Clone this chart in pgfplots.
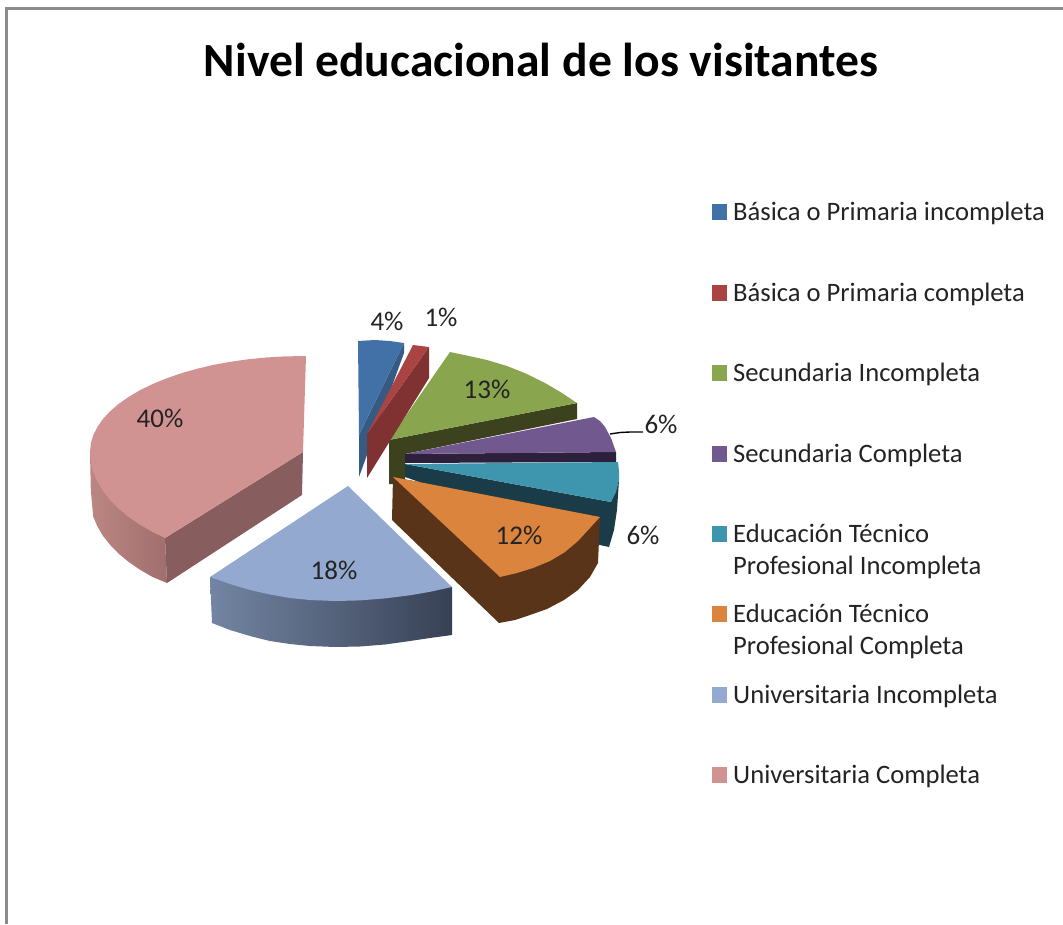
\documentclass[border=0pt]{standalone}
\usepackage{pgfplots}
\pgfplotsset{compat=1.18}
\usepackage{fontspec}
\setmainfont{Carlito}
\definecolor{bluT}{RGB}{65,113,167}\definecolor{bluS}{RGB}{55,90,130}
\definecolor{redT}{RGB}{170,68,66}\definecolor{redS}{RGB}{128,50,50}
\definecolor{grnT}{RGB}{137,165,78}\definecolor{grnS}{RGB}{60,65,30}
\definecolor{purT}{RGB}{113,88,143}\definecolor{purS}{RGB}{45,32,60}
\definecolor{teaT}{RGB}{61,150,174}\definecolor{teaS}{RGB}{25,60,72}
\definecolor{oraT}{RGB}{219,132,61}\definecolor{oraS}{RGB}{90,52,24}
\definecolor{lblT}{RGB}{147,169,207}\definecolor{lblL}{RGB}{115,133,163}\definecolor{lblR}{RGB}{55,65,85}
\definecolor{pnkT}{RGB}{209,147,146}\definecolor{pnkL}{RGB}{188,135,130}\definecolor{pnkR}{RGB}{160,110,110}\definecolor{pnkS}{RGB}{135,93,93}
\definecolor{txt}{RGB}{35,35,35}
\definecolor{frm}{RGB}{140,140,140}
\begin{document}
\begin{tikzpicture}
\path[use as bounding box] (0,0) rectangle (1063pt,924pt);
\begin{axis}[at={(0,0)},anchor=south west,scale only axis,width=1063pt,height=924pt,
  xmin=0,xmax=1063,ymin=0,ymax=924,y dir=reverse,hide axis,clip=true]
% frame
\addplot[draw=frm,line width=3pt] coordinates {(6,924)(6,8)(1063,8)};
% green
\addplot[fill=grnS,draw=none] coordinates {(389,440)(577,403)(577,419)(405,454)(405,484)(389,484)};
\addplot[fill=grnT,draw=none] coordinates {(450,352)(469,356)(487,360)(507,366)(527,374)(545,383)(562,393)(577,403)(389,440)};
% blue
\addplot[fill=bluS,draw=none] coordinates {(404,343)(404,353)(359,477)(359,435)};
\addplot[fill=bluT,draw=none] coordinates {(358,341)(375,340)(390,341)(404,343)(359,435)};
% red
\addplot[fill=redS,draw=none] coordinates {(429,347)(429,378)(367,478)(367,434)};
\addplot[fill=redT,draw=none] coordinates {(413,345)(429,347)(367,434)};
% purple
\addplot[fill=purS,draw=none] coordinates {(405,454)(616,452)(616,462)(405,463)};
\addplot[fill=purT,draw=none] coordinates {(405,454)(594,417)(600,421)(605,427)(611,438)(616,452)};
% teal
\addplot[fill=teaS,draw=none] coordinates {(405,464)(611,502)(619,480)(617,510)(614,530)(609,547)(600,545)(405,477)};
\addplot[fill=teaT,draw=none] coordinates {(405,464)(618,462)(619,471)(619,480)(616,492)(611,502)};
% orange
\addplot[fill=oraS,draw=none] coordinates {(393,477)(392,520)(499,623)(515,620)(530,615)(547,609)(564,600)(578,590)(590,577)(598,563)(600,517)};
\addplot[fill=oraT,draw=none] coordinates {(393,477)(600,517)(590,528)(578,541)(565,552)(550,561)(533,568)(517,573)(500,577)};
% light blue
\addplot[draw=none,left color=lblL,right color=lblR] coordinates {(210,577)(212,623)(230,630)(250,636)(270,641)(290,644)(310,646)(335,647)(360,646.5)(385,644.5)(410,641)(430,638)(452,635)(452,587)};
\addplot[fill=lblT,draw=none] coordinates {(348,486)(210,577)(230,584)(250,590)(270,594.5)(290,598)(310,600)(335,601)(360,600.4)(385,598.4)(410,595.3)(430,591.8)(452,587)};
% pink
\addplot[draw=none,left color=pnkL,right color=pnkR] coordinates {(90,452)(90.8,490)(93.2,516.6)(97.3,526.2)(102.8,535.6)(110,544.8)(118.5,553.5)(128.5,561.8)(139.8,569.6)(152.4,576.9)(167,583)(165,538)};
\addplot[fill=pnkS,draw=none] coordinates {(165,538)(167,583)(302,495)(303,452)};
\addplot[fill=pnkT,draw=none] coordinates {(306,356)(284.4,356.4)(266,357.5)(247.9,359.3)(230.2,361.8)(213,365)(196.5,368.9)(180.8,373.4)(166.1,378.5)(152.4,384.1)(139.8,390.3)(128.5,397)(118.5,404)(110,411.4)(102.8,419.2)(97.3,427.2)(93.2,435.3)(90.8,443.6)(90,452)(90.8,461.8)(93.2,471.6)(97.3,481.2)(102.8,490.6)(110,499.8)(118.5,508.5)(128.5,516.8)(139.8,524.6)(152.4,531.9)(165,538)(303,452)};
% leader
\addplot[draw=black,line width=1.4pt] coordinates {(610,434)(620,432.5)(630,432)(643,432)};
% legend markers
\addplot[only marks,mark=square*,mark size=7.2pt,mark options={draw=bluT,fill=bluT,line width=0pt}] coordinates {(719.5,212)};
\addplot[only marks,mark=square*,mark size=7.2pt,mark options={draw=redT,fill=redT,line width=0pt}] coordinates {(719.5,293)};
\addplot[only marks,mark=square*,mark size=7.2pt,mark options={draw=grnT,fill=grnT,line width=0pt}] coordinates {(719.5,373)};
\addplot[only marks,mark=square*,mark size=7.2pt,mark options={draw=purT,fill=purT,line width=0pt}] coordinates {(719.5,454)};
\addplot[only marks,mark=square*,mark size=7.2pt,mark options={draw=teaT,fill=teaT,line width=0pt}] coordinates {(719.5,534)};
\addplot[only marks,mark=square*,mark size=7.2pt,mark options={draw=oraT,fill=oraT,line width=0pt}] coordinates {(719.5,614)};
\addplot[only marks,mark=square*,mark size=7.2pt,mark options={draw=lblT,fill=lblT,line width=0pt}] coordinates {(719.5,695)};
\addplot[only marks,mark=square*,mark size=7.2pt,mark options={draw=pnkT,fill=pnkT,line width=0pt}] coordinates {(719.5,775)};
% title
\node[anchor=center,inner sep=0pt,font=\fontsize{47.6}{50}\selectfont\bfseries] at (axis cs:541,60) {Nivel educacional de los visitantes};
% legend text
\begin{scope}[every node/.style={anchor=base west,inner sep=0pt,text=txt,font=\fontsize{26.6}{29}\selectfont}]
\node at (axis cs:733,220) {Básica o Primaria incompleta};
\node at (axis cs:733,301) {Básica o Primaria completa};
\node at (axis cs:733,381) {Secundaria Incompleta};
\node at (axis cs:733,462) {Secundaria Completa};
\node at (axis cs:733,542) {Educación Técnico};
\node at (axis cs:733,574) {Profesional Incompleta};
\node at (axis cs:733,622) {Educación Técnico};
\node at (axis cs:733,654) {Profesional Completa};
\node at (axis cs:733,703) {Universitaria Incompleta};
\node at (axis cs:733,783) {Universitaria Completa};
\end{scope}
% data labels
\begin{scope}[every node/.style={anchor=center,inner sep=0pt,text=txt,font=\fontsize{27}{29}\selectfont}]
\node at (axis cs:387,321) {4\%};
\node at (axis cs:441,317) {1\%};
\node at (axis cs:487,389) {13\%};
\node at (axis cs:661,424) {6\%};
\node at (axis cs:643,535) {6\%};
\node at (axis cs:519,535) {12\%};
\node at (axis cs:334,570) {18\%};
\node at (axis cs:160,418) {40\%};
\end{scope}
\end{axis}
\end{tikzpicture}
\end{document}
